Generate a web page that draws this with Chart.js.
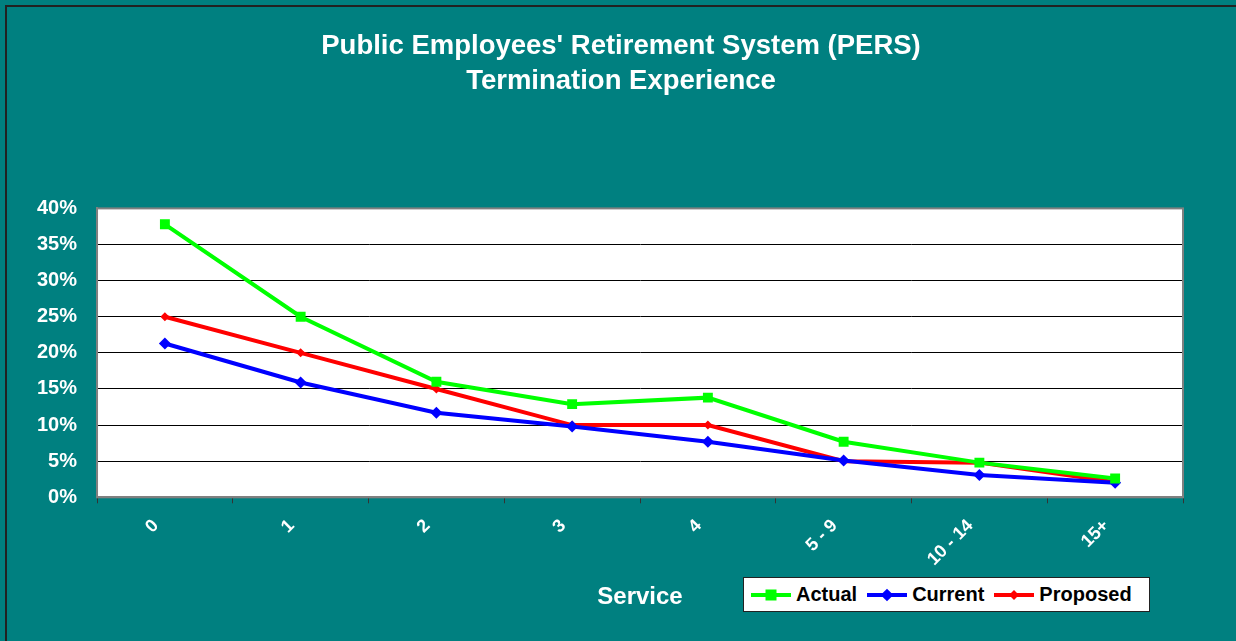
<!DOCTYPE html>
<html lang="en">
<head>
    <meta charset="UTF-8">
    <title>PERS Termination Experience</title>
    <script src="https://cdn.jsdelivr.net/npm/chart.js"></script>
    <style>
        body {
            margin: 0;
            background-color: #008080; /* teal */
            font-family: "Liberation Sans", Arial, sans-serif;
        }
        .frame {
            position: relative;
            width: 1236px;
            height: 641px;
            overflow: hidden;
        }
        .edge {
            position: absolute;
            left: 5px;
            top: 5px;
            width: 1300px;
            height: 700px;
            border-left: 2px solid #222222;
            border-top: 2px solid #222222;
            pointer-events: none;
        }
        #chartBox {
            position: absolute;
            left: 0;
            top: 0;
            width: 1236px;
            height: 641px;
        }
        #legend {
            position: absolute;
            left: 743px;
            top: 577px;
            width: 405px;
            height: 33px;
            background: #FFFFFF;
            border: 1px solid #222222;
            display: flex;
            align-items: center;
            font-weight: bold;
            font-size: 20px;
            color: #000000;
        }
        .item {
            display: flex;
            align-items: center;
            margin-left: 7px;
            margin-right: 3px;
        }
        .swatch {
            position: relative;
            width: 40px;
            height: 4px;
            margin-right: 5px;
        }
        .mark {
            position: absolute;
            left: 50%;
            top: 50%;
        }
    </style>
</head>
<body>
    <div class="frame">
        <div id="chartBox"><canvas id="lineChart"></canvas></div>
        <div class="edge"></div>
        <div id="legend"></div>
    </div>

    <script>
        // data
        const categories = ['0', '1', '2', '3', '4', '5 - 9', '10 - 14', '15+'];
        const actual   = [0.378, 0.250, 0.160, 0.129, 0.138, 0.077, 0.048, 0.026];
        const current  = [0.213, 0.159, 0.117, 0.098, 0.077, 0.051, 0.031, 0.020];
        const proposed = [0.250, 0.200, 0.150, 0.100, 0.100, 0.050, 0.048, 0.021];
        const titleLines = ["Public Employees' Retirement System (PERS)", 'Termination Experience'];

        const font = '"Liberation Sans", Arial, sans-serif';

        // white plot area with grey frame
        const plotArea = {
            id: 'plotArea',
            afterLayout(chart) {
                // title sits a little right of the padded box centre
                if (chart.titleBlock) {
                    chart.titleBlock.left += 21;
                    chart.titleBlock.right += 21;
                }
            },
            beforeDraw(chart) {
                const a = chart.chartArea;
                const ctx = chart.ctx;
                ctx.save();
                ctx.fillStyle = '#FFFFFF';
                ctx.fillRect(a.left, a.top, a.right - a.left, a.bottom - a.top);
                ctx.restore();
            },
            beforeDatasetsDraw(chart) {
                const a = chart.chartArea;
                const ctx = chart.ctx;
                ctx.save();
                ctx.strokeStyle = '#808080';
                ctx.lineWidth = 2;
                ctx.strokeRect(a.left, a.top, a.right - a.left, a.bottom - a.top);
                ctx.restore();
            }
        };

        const chart = new Chart(document.getElementById('lineChart'), {
            type: 'line',
            data: {
                labels: categories,
                datasets: [
                    {
                        label: 'Actual',
                        data: actual,
                        borderColor: '#00FF00',
                        backgroundColor: '#00FF00',
                        borderWidth: 4,
                        pointStyle: 'rect',
                        pointRadius: 7,
                        pointBorderWidth: 0
                    },
                    {
                        label: 'Current',
                        data: current,
                        borderColor: '#0000FF',
                        backgroundColor: '#0000FF',
                        borderWidth: 4,
                        pointStyle: 'rectRot',
                        pointRadius: 6,
                        pointBorderWidth: 0
                    },
                    {
                        label: 'Proposed',
                        data: proposed,
                        borderColor: '#FF0000',
                        backgroundColor: '#FF0000',
                        borderWidth: 4,
                        pointStyle: 'rectRot',
                        pointRadius: 4.5,
                        pointBorderWidth: 0
                    }
                ]
            },
            options: {
                responsive: true,
                maintainAspectRatio: false,
                animation: false,
                layout: {
                    padding: { left: 17, right: 53, top: 0, bottom: 29 }
                },
                plugins: {
                    legend: { display: false },
                    tooltip: { enabled: false },
                    title: {
                        display: true,
                        text: titleLines,
                        color: '#FFFFFF',
                        font: { family: font, size: 27.5, weight: 'bold', lineHeight: 1.28 },
                        padding: { top: 29, bottom: 109 }
                    }
                },
                scales: {
                    x: {
                        offset: true,
                        grid: {
                            offset: true,
                            drawOnChartArea: false,
                            drawTicks: true,
                            tickLength: 6,
                            color: '#333333'
                        },
                        border: { color: '#808080', width: 2 },
                        ticks: {
                            color: '#FFFFFF',
                            font: { family: font, size: 18, weight: 'bold' },
                            minRotation: 45,
                            maxRotation: 45,
                            padding: 12,
                            labelOffset: -9
                        },
                        title: {
                            display: true,
                            text: 'Service',
                            color: '#FFFFFF',
                            font: { family: font, size: 24, weight: 'bold' },
                            padding: { top: 1, bottom: 0 }
                        }
                    },
                    y: {
                        min: 0,
                        max: 0.4,
                        grid: {
                            color: '#000000',
                            lineWidth: 1,
                            drawTicks: false
                        },
                        border: { color: '#808080', width: 2 },
                        ticks: {
                            stepSize: 0.05,
                            color: '#FFFFFF',
                            font: { family: font, size: 20, weight: 'bold' },
                            padding: 20,
                            callback: v => Math.round(v * 100) + '%'
                        }
                    }
                }
            },
            plugins: [plotArea]
        });

        // legend box, built from the datasets
        const legend = document.getElementById('legend');
        chart.data.datasets.forEach(ds => {
            const item = document.createElement('div');
            item.className = 'item';
            const sw = document.createElement('span');
            sw.className = 'swatch';
            sw.style.background = ds.borderColor;
            const mk = document.createElement('span');
            mk.className = 'mark';
            mk.style.background = ds.borderColor;
            let s = ds.pointStyle === 'rect' ? 11 : (ds.pointRadius > 5 ? 9 : 7);
            mk.style.width = s + 'px';
            mk.style.height = s + 'px';
            mk.style.transform = 'translate(-50%, -50%)' + (ds.pointStyle === 'rectRot' ? ' rotate(45deg)' : '');
            sw.appendChild(mk);
            const txt = document.createElement('span');
            txt.textContent = ds.label;
            item.appendChild(sw);
            item.appendChild(txt);
            legend.appendChild(item);
        });
    </script>
</body>
</html>
